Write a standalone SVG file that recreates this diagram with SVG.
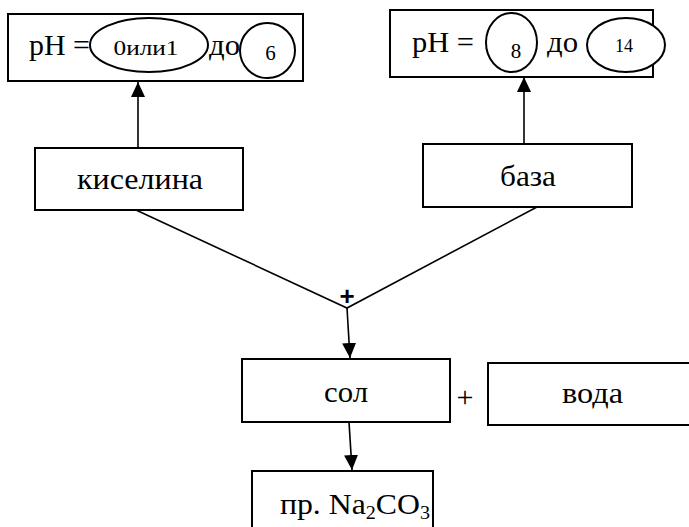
<svg xmlns="http://www.w3.org/2000/svg" width="689" height="527" viewBox="0 0 689 527">
<style>
.box{fill:#fff;stroke:#000;stroke-width:2}
.ov{fill:#fff;stroke:#000;stroke-width:2}
.t{font-family:"Liberation Serif","DejaVu Serif","Times New Roman",serif;font-size:30px;fill:#000}
.s{font-family:"Liberation Serif","DejaVu Serif","Times New Roman",serif;font-size:21px;fill:#000;text-anchor:middle}
.c{fill:none;stroke:#000;stroke-width:1.6}
</style>
<defs>
<marker id="ah" markerUnits="userSpaceOnUse" markerWidth="16" markerHeight="16" refX="15" refY="7" orient="auto">
<path d="M0,0 L15,7 L0,14 Z" fill="#000"/>
</marker>
</defs>
<g id="ph-acid">
<rect class="box" x="8" y="14" width="295" height="67"/>
<text class="t" x="29" y="55" textLength="61" lengthAdjust="spacingAndGlyphs">pH =</text>
<ellipse class="ov" cx="149" cy="45" rx="59" ry="27"/>
<text class="s" x="146" y="55" textLength="65" lengthAdjust="spacingAndGlyphs">0или1</text>
<text class="t" x="209" y="55" textLength="31" lengthAdjust="spacingAndGlyphs">до</text>
<circle class="ov" cx="267.5" cy="50.5" r="27.5"/>
<text class="s" x="270.5" y="60">6</text>
</g>
<g id="ph-base">
<rect class="box" x="390" y="10" width="263" height="67"/>
<text class="t" x="412" y="52" textLength="62" lengthAdjust="spacingAndGlyphs">pH =</text>
<ellipse class="ov" cx="511.5" cy="42.5" rx="25.5" ry="29.5"/>
<text class="s" x="516" y="58">8</text>
<text class="t" x="547" y="52" textLength="31" lengthAdjust="spacingAndGlyphs">до</text>
<ellipse class="ov" cx="626" cy="45" rx="39" ry="27"/>
<text class="s" x="624" y="52" style="font-size:18px">14</text>
</g>
<g id="acid">
<rect class="box" x="35" y="148" width="208" height="62"/>
<text class="t" x="77" y="189" textLength="126" lengthAdjust="spacingAndGlyphs">киселина</text>
</g>
<g id="base">
<rect class="box" x="423" y="144" width="209" height="63"/>
<text class="t" x="500" y="186" textLength="56" lengthAdjust="spacingAndGlyphs">база</text>
</g>
<g id="salt">
<rect class="box" x="242" y="359" width="208" height="63"/>
<text class="t" x="324" y="402" textLength="44" lengthAdjust="spacingAndGlyphs">сол</text>
</g>
<g id="water">
<rect class="box" x="488" y="363" width="210" height="62"/>
<text class="t" x="562" y="403" textLength="61" lengthAdjust="spacingAndGlyphs">вода</text>
</g>
<g id="example">
<rect class="box" x="252" y="471" width="181" height="70"/>
<text class="t" x="280" y="514" textLength="150" lengthAdjust="spacingAndGlyphs">пр. Na<tspan style="font-size:19px" dy="5">2</tspan><tspan dy="-5">CO</tspan><tspan style="font-size:19px" dy="5">3</tspan></text>
</g>
<g id="connectors">
<line class="c" x1="138" y1="148" x2="138" y2="82" marker-end="url(#ah)"/>
<line class="c" x1="524" y1="144" x2="524" y2="77" marker-end="url(#ah)"/>
<polyline class="c" points="136,210 347,308 537,207"/>
<line class="c" x1="347" y1="308" x2="350" y2="358" marker-end="url(#ah)"/>
<line class="c" x1="349" y1="422" x2="352" y2="470" marker-end="url(#ah)"/>
<text x="347" y="305" text-anchor="middle" style="font-family:'Liberation Sans',Arial,sans-serif;font-size:26px;font-weight:bold">+</text>
<text x="465" y="407" text-anchor="middle" style="font-family:'Liberation Serif','Times New Roman',serif;font-size:30px">+</text>
</g>
</svg>
